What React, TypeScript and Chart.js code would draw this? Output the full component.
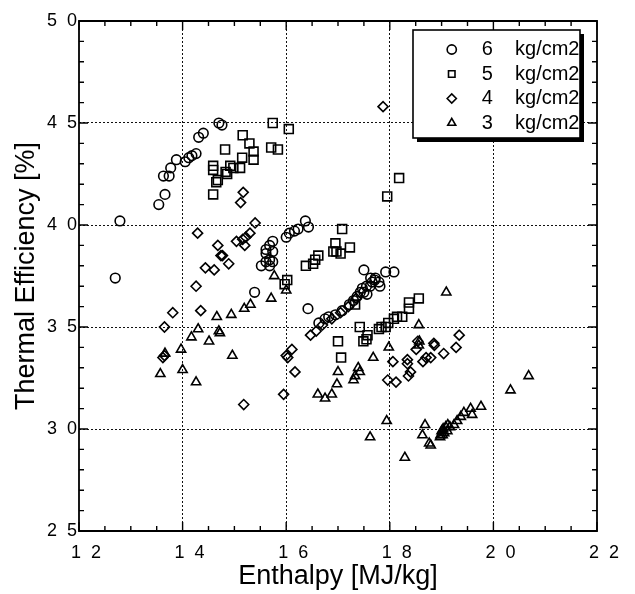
import React, { useEffect, useRef } from "react";
import { Chart, registerables } from "chart.js";

Chart.register(...registerables);

const FONT = "'Liberation Sans', Arial, Helvetica, sans-serif";

// X / Y tick labels as printed in the figure
const xTickLabels = ["1  2", "1  4", "1  6", "1  8", "2  0", "2  2"];
const yTickLabels = ["2  5", "3  0", "3  5", "4  0", "4  5", "5  0"];

const seriesNames = ["   6    kg/cm2", "   5    kg/cm2", "   4    kg/cm2", "   3    kg/cm2"];

// 6 kg/cm2 (circles)
const p6: [number, number][] = [
  [12.70, 3.74], [12.79, 4.02], [13.54, 4.10], [13.66, 4.15], [13.63, 4.24], [13.74, 4.24],
  [13.77, 4.28], [13.88, 4.32], [14.05, 4.31], [14.12, 4.33], [14.18, 4.34], [14.26, 4.35],
  [14.31, 4.43], [14.40, 4.45], [14.70, 4.50], [14.76, 4.49],
  [15.39, 3.67], [15.52, 3.80], [15.61, 3.82], [15.68, 3.80], [15.74, 3.82], [15.68, 3.83],
  [15.61, 3.86], [15.74, 3.87], [15.61, 3.88], [15.68, 3.90], [15.74, 3.92],
  [16.00, 3.94], [16.06, 3.96], [16.16, 3.97], [16.23, 3.98], [16.37, 4.02], [16.43, 3.99],
  [16.42, 3.59],
  [16.63, 3.52], [16.75, 3.54], [16.82, 3.55], [16.95, 3.56], [17.08, 3.58], [17.22, 3.61],
  [17.30, 3.63], [17.37, 3.65], [17.43, 3.67], [17.50, 3.67], [17.56, 3.66], [17.47, 3.69],
  [17.55, 3.70], [17.62, 3.70], [17.66, 3.72], [17.71, 3.73], [17.79, 3.72], [17.81, 3.70],
  [17.63, 3.74], [17.72, 3.74], [17.50, 3.78], [17.92, 3.77], [18.08, 3.77],
];

// 5 kg/cm2 (squares)
const p5: [number, number][] = [
  [14.59, 4.15], [14.65, 4.21], [14.68, 4.22], [14.83, 4.26], [14.86, 4.25], [14.59, 4.27],
  [14.59, 4.29], [14.92, 4.29], [14.98, 4.28], [15.11, 4.28], [15.15, 4.33], [14.82, 4.37],
  [15.16, 4.44], [15.29, 4.40], [15.37, 4.36], [15.37, 4.32], [15.71, 4.38], [15.84, 4.37],
  [15.74, 4.50], [16.05, 4.47],
  [15.97, 3.71], [16.02, 3.73],
  [16.38, 3.80], [16.52, 3.81], [16.56, 3.83], [16.62, 3.85], [16.91, 3.87], [16.97, 3.87],
  [16.95, 3.91], [17.05, 3.86], [17.23, 3.89], [17.08, 3.98],
  [17.95, 4.14], [18.18, 4.23],
  [17.33, 3.61], [17.42, 3.50], [17.57, 3.46], [17.55, 3.44], [17.49, 3.43], [17.00, 3.43],
  [17.06, 3.35],
  [17.79, 3.49], [17.84, 3.50], [17.92, 3.50], [17.97, 3.52], [18.08, 3.54], [18.14, 3.55],
  [18.24, 3.55], [18.37, 3.59], [18.37, 3.62], [18.56, 3.64],
];

// 4 kg/cm2 (diamonds)
const p4: [number, number][] = [
  [17.87, 4.58], [15.17, 4.16], [15.12, 4.11], [15.40, 4.01], [14.29, 3.96], [15.30, 3.96],
  [15.22, 3.94], [15.16, 3.93], [15.04, 3.92], [15.20, 3.90], [14.68, 3.90], [14.74, 3.85],
  [14.77, 3.85], [14.89, 3.81], [14.44, 3.79], [14.61, 3.78], [14.26, 3.70], [13.81, 3.57],
  [14.35, 3.58], [13.65, 3.50], [13.62, 3.35], [13.65, 3.36], [16.11, 3.39], [16.00, 3.36],
  [16.03, 3.35], [16.17, 3.28], [15.95, 3.17], [15.18, 3.12],
  [16.47, 3.46], [16.58, 3.48], [16.70, 3.51], [16.88, 3.54], [17.05, 3.57], [17.20, 3.60],
  [17.35, 3.64],
  [19.34, 3.46], [19.28, 3.40], [19.04, 3.37], [18.85, 3.42], [18.86, 3.41], [18.51, 3.39],
  [18.54, 3.43], [18.79, 3.35], [18.70, 3.35], [18.64, 3.33], [18.34, 3.34], [18.34, 3.32],
  [18.40, 3.28], [18.36, 3.26], [18.06, 3.33], [17.96, 3.24], [18.12, 3.23],
];

// 3 kg/cm2 (triangles)
const p3: [number, number][] = [
  [15.77, 3.75], [16.00, 3.68], [15.71, 3.64], [15.31, 3.61], [15.19, 3.59], [14.94, 3.56],
  [14.66, 3.55], [14.30, 3.49], [14.17, 3.45], [14.70, 3.48], [14.72, 3.47], [14.51, 3.43],
  [13.97, 3.39], [14.96, 3.36], [14.00, 3.29], [13.57, 3.27], [14.26, 3.23], [13.66, 3.37],
  [19.09, 3.67], [18.56, 3.51], [17.98, 3.40], [18.57, 3.43], [18.56, 3.41], [17.68, 3.35],
  [17.39, 3.30], [17.42, 3.28], [17.33, 3.26], [17.30, 3.24], [17.00, 3.28], [16.98, 3.22],
  [16.88, 3.17], [16.61, 3.17], [16.75, 3.15], [20.68, 3.26], [20.33, 3.19],
  [19.76, 3.11], [19.56, 3.10], [19.59, 3.07], [19.43, 3.08], [19.37, 3.06], [19.30, 3.04],
  [19.24, 3.02], [19.16, 3.01], [19.11, 2.99], [19.05, 2.98], [19.02, 2.97], [18.98, 2.97],
  [18.97, 2.96], [19.00, 2.99], [19.03, 3.00], [19.08, 3.01], [19.12, 3.02],
  [18.68, 3.02], [18.63, 2.97], [18.76, 2.93], [18.79, 2.92], [17.94, 3.04], [17.62, 2.96],
  [18.29, 2.86],
];

const toXY = (arr: [number, number][]) => arr.map(([x, y]) => ({ x, y }));

const frameAndTicks = {
  id: "frameAndTicks",
  afterLayout(chart: any) {
    const lg = chart.legend;
    if (lg) {
      const w = 160;
      lg.left = 444;
      lg.top = 35;
      lg.right = lg.left + w;
      lg.width = w;
      lg.bottom = 300;
      lg.height = 265;
    }
  },
  afterDraw(chart: any) {
    const { ctx, chartArea: a, scales } = chart;
    const xs = scales.x;
    const ys = scales.y;
    ctx.save();
    ctx.strokeStyle = "#000";
    ctx.lineWidth = 1.8;
    ctx.beginPath();
    ctx.rect(a.left, a.top, a.right - a.left, a.bottom - a.top);
    ctx.stroke();
    // inward tick marks on all four sides
    ctx.lineWidth = 1.4;
    ctx.beginPath();
    for (let i = 0; i <= 20; i++) {
      const v = xs.min + i * 0.5;
      const px = xs.getPixelForValue(v);
      const len = i % 4 === 0 ? 9 : 5;
      ctx.moveTo(px, a.bottom);
      ctx.lineTo(px, a.bottom - len);
      ctx.moveTo(px, a.top);
      ctx.lineTo(px, a.top + len);
    }
    for (let i = 0; i <= 25; i++) {
      const v = ys.min + i * 0.1;
      const py = ys.getPixelForValue(v);
      const len = i % 5 === 0 ? 9 : 5;
      ctx.moveTo(a.left, py);
      ctx.lineTo(a.left + len, py);
      ctx.moveTo(a.right, py);
      ctx.lineTo(a.right - len, py);
    }
    ctx.stroke();
    // legend box with drop shadow
    const bx = 413, by = 30, bw = 167, bh = 108;
    ctx.fillStyle = "#000";
    ctx.fillRect(bx + 4, by + 4, bw, bh);
    ctx.fillStyle = "#fff";
    ctx.fillRect(bx, by, bw, bh);
    ctx.lineWidth = 1.6;
    ctx.strokeRect(bx, by, bw, bh);
    ctx.restore();
    if (chart.legend) chart.legend.draw();
  },
};

export default function App() {
  const ref = useRef<HTMLCanvasElement | null>(null);
  useEffect(() => {
    if (!ref.current) return;
    Chart.defaults.font.family = FONT;
    Chart.defaults.color = "#000";
    const styles = ["circle", "rect", "rectRot", "triangle"];
    const radii = [4.8, 6.3, 5, 5.3];
    const all = [p6, p5, p4, p3];
    const chart = new Chart(ref.current, {
      type: "scatter",
      data: {
        datasets: all.map((arr, i) => ({
          label: seriesNames[i],
          data: toXY(arr),
          pointStyle: styles[i] as any,
          pointRadius: radii[i],
          pointHoverRadius: radii[i],
          borderColor: "#000",
          backgroundColor: "rgba(0,0,0,0)",
          borderWidth: 1.6,
          showLine: false,
        })),
      },
      options: {
        responsive: false,
        animation: false,
        events: [],
        layout: { padding: { top: 21, right: 38, bottom: 0, left: 0 } },
        plugins: {
          tooltip: { enabled: false },
          legend: {
            position: "chartArea" as any,
            align: "start",
            labels: {
              usePointStyle: true,
              boxHeight: 6.5,
              boxWidth: 6.5,
              padding: 4.5,
              color: "#000",
              font: { size: 20, family: FONT },
            },
          },
        },
        scales: {
          x: {
            type: "linear",
            min: 12,
            max: 22,
            afterFit: (s: any) => { s.height = 63; },
            ticks: {
              stepSize: 2,
              padding: 11,
              labelOffset: 7,
              autoSkip: false,
              maxRotation: 0,
              color: "#000",
              font: { size: 18, family: FONT },
              callback: (_v: any, i: number) => xTickLabels[i],
            },
            grid: {
              drawTicks: false,
              lineWidth: 1,
              color: (c: any) => (c.index === 0 || c.index === xTickLabels.length - 1 ? "rgba(0,0,0,0)" : "#111"),
            },
            border: { display: false, dash: [2, 2] },
            title: {
              display: true,
              text: "Enthalpy [MJ/kg]",
              color: "#000",
              font: { size: 27, family: FONT },
              padding: { top: 0, bottom: 1 },
            },
          },
          y: {
            type: "linear",
            min: 2.5,
            max: 5,
            afterFit: (s: any) => { s.width = 79; },
            ticks: {
              stepSize: 0.5,
              padding: 2,
              autoSkip: false,
              color: "#000",
              font: { size: 18, family: FONT },
              callback: (_v: any, i: number) => yTickLabels[i],
            },
            grid: {
              drawTicks: false,
              lineWidth: 1,
              color: (c: any) => (c.index === 0 || c.index === yTickLabels.length - 1 ? "rgba(0,0,0,0)" : "#111"),
            },
            border: { display: false, dash: [2, 2] },
            title: {
              display: true,
              text: "Thermal Efficiency [%]",
              color: "#000",
              font: { size: 27, family: FONT },
              padding: { top: 10, bottom: 0 },
            },
          },
        },
      },
      plugins: [frameAndTicks],
    });
    return () => chart.destroy();
  }, []);
  return (
    <div style={{ position: "absolute", left: 0, top: 0, width: 635, height: 594, background: "#fff" }}>
      <canvas ref={ref} width={635} height={594} style={{ display: "block" }} />
    </div>
  );
}
